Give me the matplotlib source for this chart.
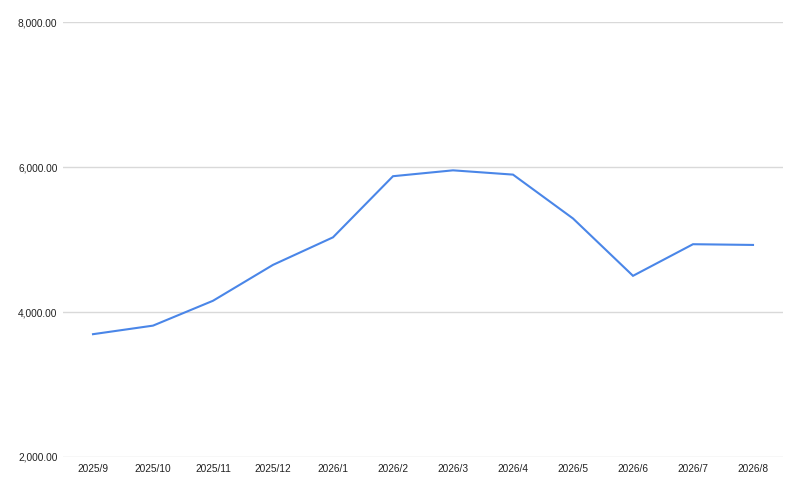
import matplotlib
matplotlib.use("Agg")
import matplotlib.pyplot as plt
from matplotlib.ticker import FuncFormatter

categories = ["2025/9", "2025/10", "2025/11", "2025/12", "2026/1", "2026/2",
              "2026/3", "2026/4", "2026/5", "2026/6", "2026/7", "2026/8"]
values = [3694, 3812, 4155, 4650, 5030, 5873, 5954, 5895, 5290, 4499, 4935, 4925]
y_ticks = [2000, 4000, 6000, 8000]

plt.rcParams['font.family'] = ['Liberation Sans', 'DejaVu Sans']

fig = plt.figure(figsize=(8, 4.92), dpi=100)
ax = fig.add_axes([63/800, 1-457/492, 720/800, 435/492])

x = list(range(len(categories)))
ax.plot(x, values, color="#4a86e8", linewidth=1.5, solid_joinstyle="miter", zorder=3)

ax.set_xlim(-0.5, len(categories) - 0.5)
ax.set_ylim(2000, 8000)
ax.set_yticks(y_ticks)
ax.yaxis.set_major_formatter(FuncFormatter(lambda v, p: f"{v:,.2f}"))
ax.set_xticks(x)
ax.set_xticklabels(categories)
ax.grid(axis="y", color="#d9d9d9", linewidth=1)
ax.set_axisbelow(True)
for s in ax.spines.values():
    s.set_visible(False)
ax.tick_params(axis="both", length=0, labelsize=7.3, colors="#222222")
ax.tick_params(axis="y", pad=4)
ax.tick_params(axis="x", pad=5)

fig.savefig("out.png", dpi=100)
